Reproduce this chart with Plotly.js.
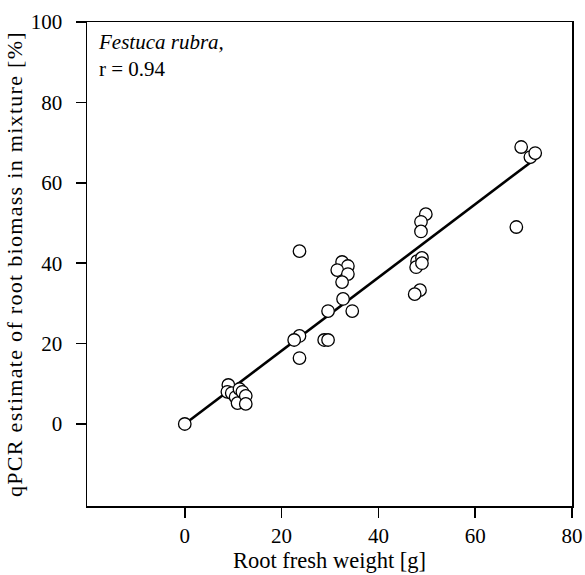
<!DOCTYPE html>
<html>
<head>
<meta charset="utf-8">
<script src="https://cdn.plot.ly/plotly-3.0.1.min.js"></script>
<style>
html,body{margin:0;padding:0;background:#fff;}
#chart{width:585px;height:575px;}
.g-ytitle text{letter-spacing:1.3px;}
</style>
</head>
<body>
<div id="chart"></div>
<script>
// Observed points: root fresh weight (g) vs qPCR estimate (%)
const rootWeight = [0,
  9.0, 8.8, 9.7, 10.5, 10.9, 11.3, 11.9, 12.6, 12.6,
  23.7, 32.5, 33.7, 31.5, 33.7, 32.5, 32.7, 29.6, 34.6, 23.7, 22.6, 28.8, 29.6, 23.7,
  49.8, 48.8, 48.8, 48.0, 47.8, 49.0, 49.0, 48.6, 47.5,
  69.5, 71.4, 72.4, 68.5];
const qpcrEstimate = [0,
  9.7, 8.0, 7.7, 6.7, 5.2, 8.7, 8.0, 7.0, 5.0,
  43.0, 40.3, 39.3, 38.3, 37.3, 35.3, 31.1, 28.1, 28.1, 21.9, 20.9, 20.9, 20.9, 16.4,
  52.2, 50.3, 47.9, 40.5, 39.0, 41.3, 40.0, 33.3, 32.3,
  68.9, 66.4, 67.4, 49.0];
// Fitted regression line endpoints
const fitX = [0, 73];
const fitY = [0, 66.5];
const xTicks = [0, 20, 40, 60, 80];
const yTicks = [0, 20, 40, 60, 80, 100];

const fam = '"Liberation Serif", "Times New Roman", serif';
const tickFont = {family: fam, size: 21, color: '#000'};

const traces = [
  {x: fitX, y: fitY, mode: 'lines', line: {color: '#000', width: 2.6}, hoverinfo: 'skip', showlegend: false},
  {x: rootWeight, y: qpcrEstimate, mode: 'markers', showlegend: false,
   marker: {symbol: 'circle', size: 12.5, color: '#fff', line: {color: '#000', width: 1.3}}}
];

const axisCommon = {
  showline: true, linecolor: '#000', linewidth: 1.5, mirror: true,
  ticks: 'outside', ticklen: 10, tickwidth: 1.5, tickcolor: '#000',
  showgrid: false, zeroline: false, tickfont: tickFont
};

const layout = {
  width: 585, height: 575,
  margin: {l: 87, r: 13, t: 22, b: 69},
  paper_bgcolor: '#fff', plot_bgcolor: '#fff',
  font: tickFont,
  xaxis: Object.assign({}, axisCommon, {
    range: [-20.2, 80], tickvals: xTicks, ticktext: xTicks.map(String),
    title: {text: 'Root fresh weight [g]', font: {family: fam, size: 22.5, color: '#000'}, standoff: 4}
  }),
  yaxis: Object.assign({}, axisCommon, {
    range: [-20.4, 100], tickvals: yTicks, ticktext: yTicks.map(String),
    ticklabelstandoff: 9,
    title: {text: 'qPCR estimate of root biomass in mixture [%]', font: {family: fam, size: 22, color: '#000'}, standoff: 2}
  }),
  annotations: [
    {xref: 'paper', yref: 'paper', x: 0.018, y: 0.988, xanchor: 'left', yanchor: 'top', showarrow: false, align: 'left',
     text: '<i>Festuca rubra,</i><br>r = 0.94', font: {family: fam, size: 21, color: '#000'}}
  ]
};

Plotly.newPlot('chart', traces, layout, {displayModeBar: false, staticPlot: true});
</script>
</body>
</html>
